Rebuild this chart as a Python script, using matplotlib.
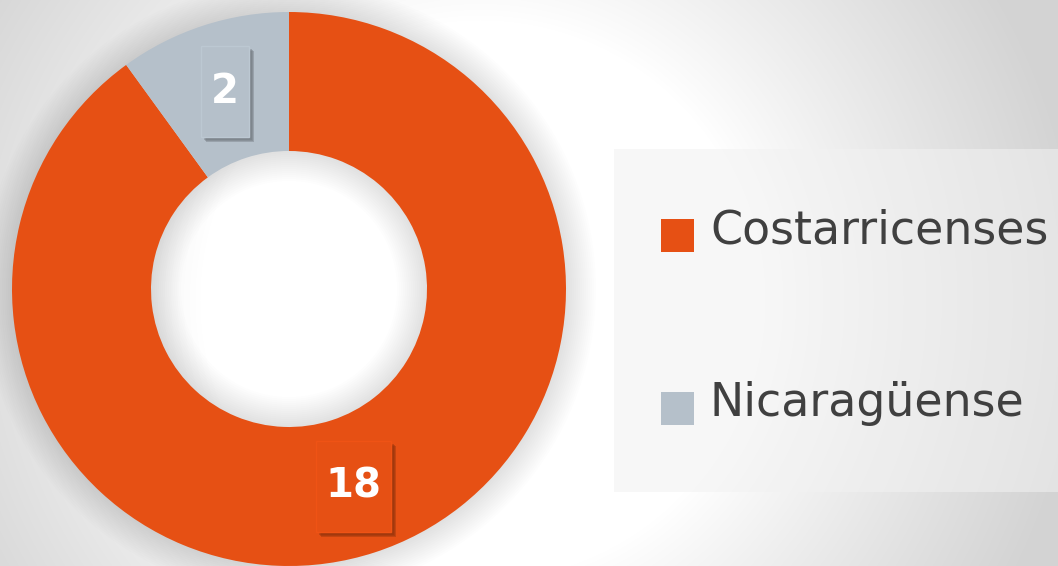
import matplotlib.pyplot as plt
import numpy as np
from matplotlib.patches import Rectangle, Wedge

# data
labels = ['Costarricenses', 'Nicaragüense']
values = [18, 2]
colors = ['#E65014', '#B5C0CA']

W, H = 1058, 566
fig = plt.figure(figsize=(W / 100, H / 100), dpi=100)
ax = fig.add_axes([0, 0, 1, 1])

# radial background gradient
yy, xx = np.mgrid[0:H, 0:W]
d = np.hypot(xx - 480, yy - 300)
g = 1.0 - 0.17 * np.clip((d - 280) / 320, 0, 1) ** 0.9
ax.imshow(np.dstack([g, g, g]), extent=(0, W, 0, H), origin='upper', zorder=0)

cx, cy, R, ring = 289, 277, 277, 139

# soft shadow under the donut
for i in range(1, 16):
    ax.add_patch(Wedge((cx, cy), R + i * 2, 0, 360, width=ring + i * 4,
                       facecolor='black', alpha=0.008, lw=0, zorder=1))

wedges, _ = ax.pie(values, colors=colors, startangle=90, counterclock=False,
                   radius=R, center=(cx, cy), explode=[0, 5 / R],
                   wedgeprops=dict(width=ring, linewidth=0))
for w in wedges:
    w.set_zorder(2)

# data labels in boxes with drop shadow
for w, v in zip(wedges, values):
    a = np.deg2rad((w.theta1 + w.theta2) / 2)
    rm = w.r - w.width / 2
    px = w.center[0] + rm * np.cos(a)
    py = w.center[1] + rm * np.sin(a)
    txt = str(v)
    bw, bh = 21 + 27 * len(txt), 91
    fc = np.array(w.get_facecolor()[:3])
    for k in range(3):
        ax.add_patch(Rectangle((px - bw / 2 + 3 + k, py - bh / 2 - 3 - k), bw, bh,
                               facecolor=fc * 0.62, alpha=0.4, lw=0, zorder=3))
    ax.add_patch(Rectangle((px - bw / 2, py - bh / 2), bw, bh, facecolor=fc,
                           edgecolor=np.minimum(fc * 1.04, 1), lw=1, zorder=4))
    ax.text(px, py, txt, color='white', fontsize=29, fontweight='bold',
            ha='center', va='center', zorder=5)

# legend panel
ax.add_patch(Rectangle((614, H - 492), 460, 343, facecolor='#f2f2f2',
                       alpha=0.55, lw=0, zorder=1))
for i, (lab, c) in enumerate(zip(labels, colors)):
    ty = H - 243 - i * 173
    ax.add_patch(Rectangle((661, ty - 9), 33, 33, facecolor=c, lw=0, zorder=3))
    ax.text(710, ty, lab, color='#404040', fontsize=33, ha='left',
            va='baseline', zorder=3)

ax.set_xlim(0, W)
ax.set_ylim(0, H)
ax.set_aspect('auto')
ax.axis('off')

fig.savefig('out.png', dpi=100)
